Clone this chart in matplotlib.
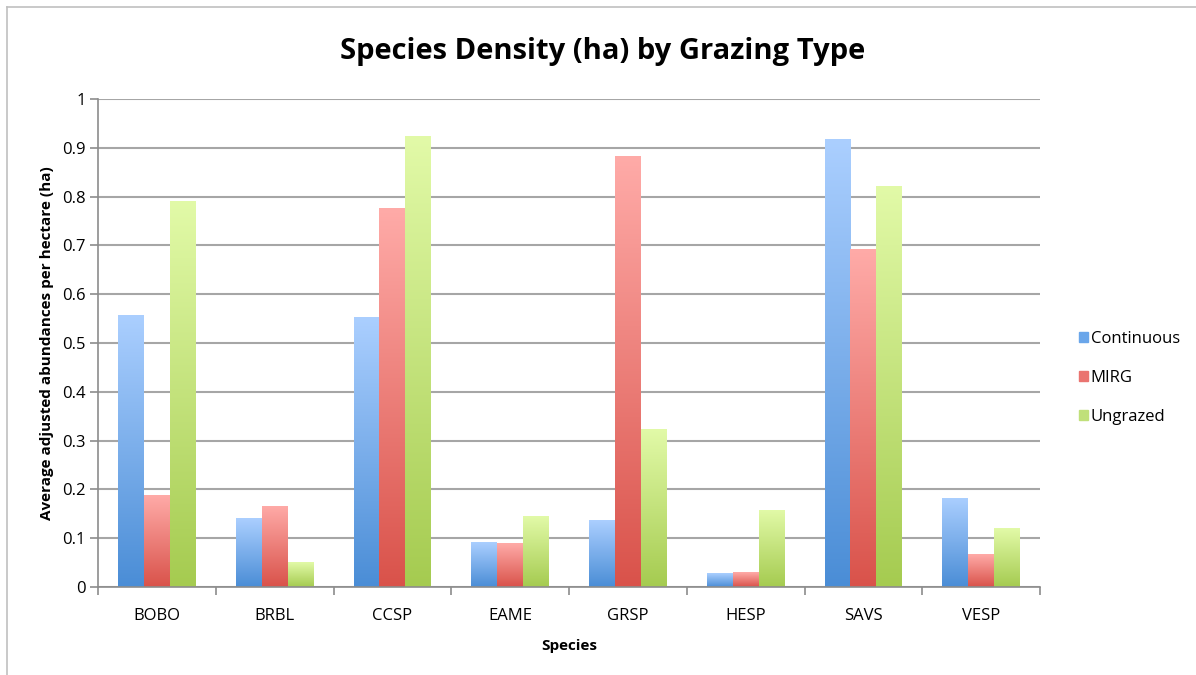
import numpy as np
import matplotlib.pyplot as plt
from matplotlib.colors import LinearSegmentedColormap
from matplotlib.lines import Line2D

species = ['BOBO', 'BRBL', 'CCSP', 'EAME', 'GRSP', 'HESP', 'SAVS', 'VESP']
continuous = [0.557, 0.141, 0.553, 0.092, 0.137, 0.028, 0.918, 0.183]
mirg = [0.188, 0.166, 0.776, 0.090, 0.883, 0.030, 0.692, 0.067]
ungrazed = [0.792, 0.051, 0.924, 0.145, 0.324, 0.158, 0.822, 0.120]
series_names = ['Continuous', 'MIRG', 'Ungrazed']

# (top colour, bottom colour) for each series gradient
grads = [('#abcfff', '#4a8dd6'), ('#ffaba8', '#d9524a'), ('#e2faa8', '#a5cb50')]
legend_cols = ['#6aa6ea', '#ea7470', '#c0e07a']

plt.rcParams['font.family'] = ['Open Sans', 'DejaVu Sans']

fig = plt.figure(figsize=(11.96, 6.75), dpi=100)
ax = fig.add_axes([98/1196, 88/675, 942/1196, 488/675])

x = np.arange(len(species))
w = 0.22
grad = np.linspace(1, 0, 256).reshape(-1, 1)
for i, vals in enumerate([continuous, mirg, ungrazed]):
    cmap = LinearSegmentedColormap.from_list('g%d' % i, [grads[i][1], grads[i][0]])
    bars = ax.bar(x + (i - 1) * w, vals, w, color=grads[i][1], zorder=2,
                  label=series_names[i])
    for b in bars:
        bx, by = b.get_x(), b.get_y()
        bw, bh = b.get_width(), b.get_height()
        b.set_facecolor('none')
        b.set_edgecolor('none')
        im = ax.imshow(grad, cmap=cmap, aspect='auto', zorder=2,
                       extent=[bx, bx + bw, by, by + bh], interpolation='bicubic')
        im.set_clip_path(b)

ax.set_xlim(-0.5, len(species) - 0.5)
ax.set_ylim(0, 1)
ax.set_yticks(np.arange(0, 1.01, 0.1))
ax.set_yticklabels(['0', '0.1', '0.2', '0.3', '0.4', '0.5', '0.6', '0.7', '0.8', '0.9', '1'])
ax.set_xticks(x)
ax.set_xticklabels(species)
ax.set_xticks(np.arange(-0.5, len(species)), minor=True)
ax.tick_params(axis='x', which='major', length=0, pad=15, labelsize=12)
ax.tick_params(axis='x', which='minor', length=6, color='#8c8c8c', width=1.2)
ax.tick_params(axis='y', length=6, color='#8c8c8c', width=1.2, labelsize=12, pad=3)
ax.grid(axis='y', color='#a6a6a6', linewidth=1.5, zorder=0)
ax.set_axisbelow(True)
for s in ['top', 'right']:
    ax.spines[s].set_visible(False)
for s in ['left', 'bottom']:
    ax.spines[s].set_color('#8c8c8c')
    ax.spines[s].set_linewidth(1.2)

ax.set_xlabel('Species', fontsize=11, fontweight='bold', labelpad=11)
ax.set_ylabel('Average adjusted abundances per hectare (ha)', fontsize=11,
              fontweight='bold', labelpad=6)
fig.text(0.504, 1 - 52/675, 'Species Density (ha) by Grazing Type', fontsize=21,
         fontweight='bold', ha='center', va='center')

handles = [plt.Rectangle((0, 0), 1, 1, color=legend_cols[i]) for i in range(3)]
fig.legend(handles, series_names, loc='center left', bbox_to_anchor=(1064/1196, 1 - 378/675),
           frameon=False, fontsize=12, handlelength=0.55, handleheight=0.55,
           handletextpad=0.15, labelspacing=1.4)

# outer frame lines
fig.add_artist(Line2D([6.5/1196, 6.5/1196], [0, 1 - 6.5/675], color='#c0c0c0', lw=1.2))
fig.add_artist(Line2D([6.5/1196, 1], [1 - 6.5/675, 1 - 6.5/675], color='#c0c0c0', lw=1.2))

fig.savefig('out.png', dpi=100)
